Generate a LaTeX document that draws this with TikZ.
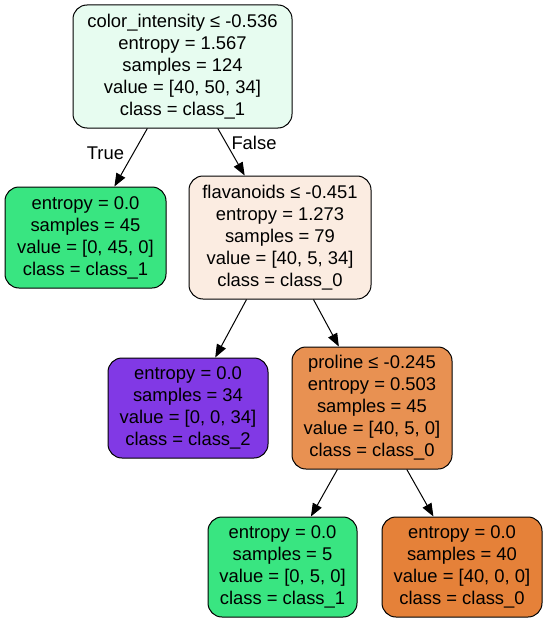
\documentclass[tikz,border=0pt]{standalone}
\usepackage{fontspec}
\setmainfont{Liberation Sans}
\usetikzlibrary{arrows.meta}
\definecolor{rootfill}{HTML}{E7FCF0}
\definecolor{flavfill}{HTML}{FBECE1}
\definecolor{prolfill}{HTML}{E89152}
\definecolor{cls0}{HTML}{E58139}
\definecolor{cls1}{HTML}{39E581}
\definecolor{cls2}{HTML}{8139E5}
\tikzset{
  treenode/.style={draw=black, line width=1pt, rounded corners=14pt,
    inner sep=0pt, align=center,
    font=\fontsize{18.4}{22}\selectfont},
  edge/.style={draw=black, line width=1pt,
    -{Triangle[length=13pt,width=10pt]}},
  edgelabel/.style={font=\fontsize{18.4}{22}\selectfont, inner sep=0pt}
}
\begin{document}
\begin{tikzpicture}[x=1pt,y=-1pt]
\useasboundingbox (0,0) rectangle (547,623);
\fill[white] (0,0) rectangle (547,623);

\node[treenode, fill=rootfill, minimum width=219pt, minimum height=123pt] (root) at (182.5,66.5)
  {color\_intensity ≤ -0.536\\entropy = 1.567\\samples = 124\\value = [40, 50, 34]\\class = class\_1};
\node[treenode, fill=cls1, minimum width=161pt, minimum height=101pt] (leafA) at (85.5,237.5)
  {entropy = 0.0\\samples = 45\\value = [0, 45, 0]\\class = class\_1};
\node[treenode, fill=flavfill, minimum width=182pt, minimum height=123pt] (flav) at (280,237.5)
  {flavanoids ≤ -0.451\\entropy = 1.273\\samples = 79\\value = [40, 5, 34]\\class = class\_0};
\node[treenode, fill=cls2, minimum width=160pt, minimum height=100pt] (leafB) at (188,408)
  {entropy = 0.0\\samples = 34\\value = [0, 0, 34]\\class = class\_2};
\node[treenode, fill=prolfill, minimum width=160pt, minimum height=122pt] (prol) at (372,408)
  {proline ≤ -0.245\\entropy = 0.503\\samples = 45\\value = [40, 5, 0]\\class = class\_0};
\node[treenode, fill=cls1, minimum width=149pt, minimum height=100pt] (leafC) at (282.5,567)
  {entropy = 0.0\\samples = 5\\value = [0, 5, 0]\\class = class\_1};
\node[treenode, fill=cls0, minimum width=160pt, minimum height=100pt] (leafD) at (462,567)
  {entropy = 0.0\\samples = 40\\value = [40, 0, 0]\\class = class\_0};

\draw[edge] (root) -- (leafA);
\draw[edge] (root) -- (flav);
\draw[edge] (flav) -- (leafB);
\draw[edge] (flav) -- (prol);
\draw[edge] (prol) -- (leafC);
\draw[edge] (prol) -- (leafD);

\node[edgelabel] (lblTrue) at (105.5,153) {True};
\node[edgelabel] (lblFalse) at (254,143) {False};
\end{tikzpicture}
\end{document}
